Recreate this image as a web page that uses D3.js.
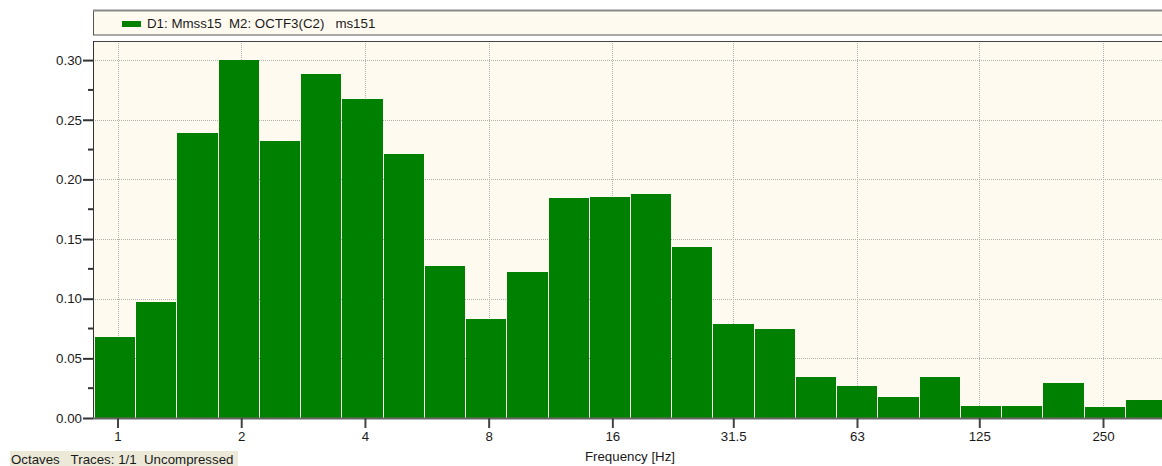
<!DOCTYPE html>
<html>
<head>
<meta charset="utf-8">
<script src="https://cdn.jsdelivr.net/npm/d3@7"></script>
<style>
  body { margin: 0; background: #fff; }
  svg { display: block; font-family: "Liberation Sans", Arial, sans-serif; font-size: 13.3px; }
  text { white-space: pre; fill: #1a1a1a; }
</style>
</head>
<body>
<svg id="chart" width="1162" height="466"></svg>
<script>
// third-octave bands (nominal centre, Hz) and their values
const bands = ["1", "1.25", "1.6", "2", "2.5", "3.15", "4", "5", "6.3", "8", "10", "12.5", "16",
               "20", "25", "31.5", "40", "50", "63", "80", "100", "125", "160", "200", "250", "315"];
const values = [0.068, 0.097, 0.239, 0.300, 0.232, 0.288, 0.267, 0.221, 0.127, 0.083, 0.122, 0.184, 0.185,
                0.188, 0.143, 0.079, 0.075, 0.034, 0.027, 0.018, 0.034, 0.010, 0.010, 0.029, 0.009, 0.015];
const xTicks = [1, 2, 4, 8, 16, 31.5, 63, 125, 250];
const yTicks = [0, 0.05, 0.10, 0.15, 0.20, 0.25, 0.30];
const yMinor = [0.025, 0.075, 0.125, 0.175, 0.225, 0.275];
const legendText = "D1: Mmss15  M2: OCTF3(C2)   ms151";
const xTitle = "Frequency [Hz]";
const statusText = "Octaves   Traces: 1/1  Uncompressed";

const plot = {left: 93, top: 41, right: 1170, bottom: 418};
const svg = d3.select("#chart");

const x = d3.scaleLog().base(2).domain([1, 250]).range([117.5, 1103]);
const y = d3.scaleLinear().domain([0, 0.316]).range([plot.bottom, plot.top]);

// legend box
svg.append("rect")
    .attr("x", plot.left + 0.5).attr("y", 10.5)
    .attr("width", 1100).attr("height", 24.5)
    .attr("fill", "#fffaf0").attr("stroke", "#555");
svg.append("line")
    .attr("x1", plot.left).attr("x2", 1162).attr("y1", 10.5).attr("y2", 10.5)
    .attr("stroke", "#8a8a8a").attr("stroke-width", 2);
svg.append("rect")
    .attr("x", 122).attr("y", 21).attr("width", 19).attr("height", 6)
    .attr("fill", "#008000");
svg.append("text").attr("x", 147).attr("y", 28).text(legendText);

// plot area
svg.append("rect")
    .attr("x", plot.left).attr("y", plot.top)
    .attr("width", plot.right - plot.left).attr("height", plot.bottom - plot.top)
    .attr("fill", "#fffaf0");

svg.append("clipPath").attr("id", "clip")
  .append("rect")
    .attr("x", plot.left).attr("y", plot.top)
    .attr("width", plot.right - plot.left).attr("height", plot.bottom - plot.top);

const inner = svg.append("g").attr("clip-path", "url(#clip)");

// grid
inner.append("g").selectAll("line")
  .data(yTicks.filter(d => d > 0))
  .join("line")
    .attr("x1", plot.left).attr("x2", plot.right)
    .attr("y1", d => Math.round(y(d)) + 0.5).attr("y2", d => Math.round(y(d)) + 0.5)
    .attr("stroke", "#b0b0b0").attr("stroke-dasharray", "1,1");
inner.append("g").selectAll("line")
  .data(xTicks)
  .join("line")
    .attr("x1", d => Math.round(x(d)) + 0.5).attr("x2", d => Math.round(x(d)) + 0.5)
    .attr("y1", plot.top).attr("y2", plot.bottom)
    .attr("stroke", "#b0b0b0").attr("stroke-dasharray", "1,1");

// bars: exact band centres 2^(i/3), edges at +-1/6 octave
const bars = bands.map((b, i) => ({
  band: b,
  value: values[i],
  lo: Math.pow(2, i / 3 - 1 / 6),
  hi: Math.pow(2, i / 3 + 1 / 6)
}));

inner.append("g")
    .attr("transform", "translate(-2,0)")
  .selectAll("rect")
  .data(bars)
  .join("rect")
    .attr("x", d => Math.round(x(d.lo)))
    .attr("width", d => Math.round(x(d.hi)) - Math.round(x(d.lo)) - 1)
    .attr("y", d => Math.round(y(d.value)))
    .attr("height", d => plot.bottom - Math.round(y(d.value)))
    .attr("fill", "#008000");

// frame
svg.append("line")
    .attr("x1", plot.left).attr("x2", 1162).attr("y1", plot.top + 0.5).attr("y2", plot.top + 0.5)
    .attr("stroke", "#444");
svg.append("line")
    .attr("x1", plot.left + 0.5).attr("x2", plot.left + 0.5).attr("y1", plot.top).attr("y2", plot.bottom)
    .attr("stroke", "#333");
svg.append("line")
    .attr("x1", plot.left).attr("x2", 1162).attr("y1", plot.bottom + 0.5).attr("y2", plot.bottom + 0.5)
    .attr("stroke", "#666").attr("stroke-width", 2);

// y axis
const yAxis = d3.axisLeft(y)
    .tickValues(yTicks)
    .tickSize(10)
    .tickPadding(1)
    .tickFormat(d3.format(".2f"));
const gy = svg.append("g")
    .attr("transform", `translate(${plot.left},0)`)
    .call(yAxis);
gy.select(".domain").remove();
gy.selectAll(".tick line").attr("stroke", "#333").attr("stroke-width", 2);
gy.selectAll(".tick text")
    .attr("font-family", "Liberation Sans, Arial, sans-serif")
    .attr("font-size", 13.3).attr("fill", "#1a1a1a");

gy.selectAll(".minor")
  .data(yMinor)
  .join("line")
    .attr("class", "minor")
    .attr("x1", -5).attr("x2", 0)
    .attr("y1", d => y(d)).attr("y2", d => y(d))
    .attr("stroke", "#333").attr("stroke-width", 2);

// x axis
const xAxis = d3.axisBottom(x)
    .tickValues(xTicks)
    .tickSize(10)
    .tickPadding(4)
    .tickFormat(d => String(d));
const gx = svg.append("g")
    .attr("transform", `translate(0,${plot.bottom})`)
    .call(xAxis);
gx.select(".domain").remove();
gx.selectAll(".tick line").attr("stroke", "#444").attr("stroke-width", 2);
gx.selectAll(".tick text")
    .attr("font-family", "Liberation Sans, Arial, sans-serif")
    .attr("font-size", 13.3).attr("fill", "#1a1a1a");

svg.append("text")
    .attr("x", 630).attr("y", 461)
    .attr("text-anchor", "middle")
    .text(xTitle);

// status bar
svg.append("rect")
    .attr("x", 10).attr("y", 451).attr("width", 228).attr("height", 15)
    .attr("fill", "#ece9d8");
svg.append("text").attr("x", 11).attr("y", 463.5).text(statusText);
</script>
</body>
</html>
